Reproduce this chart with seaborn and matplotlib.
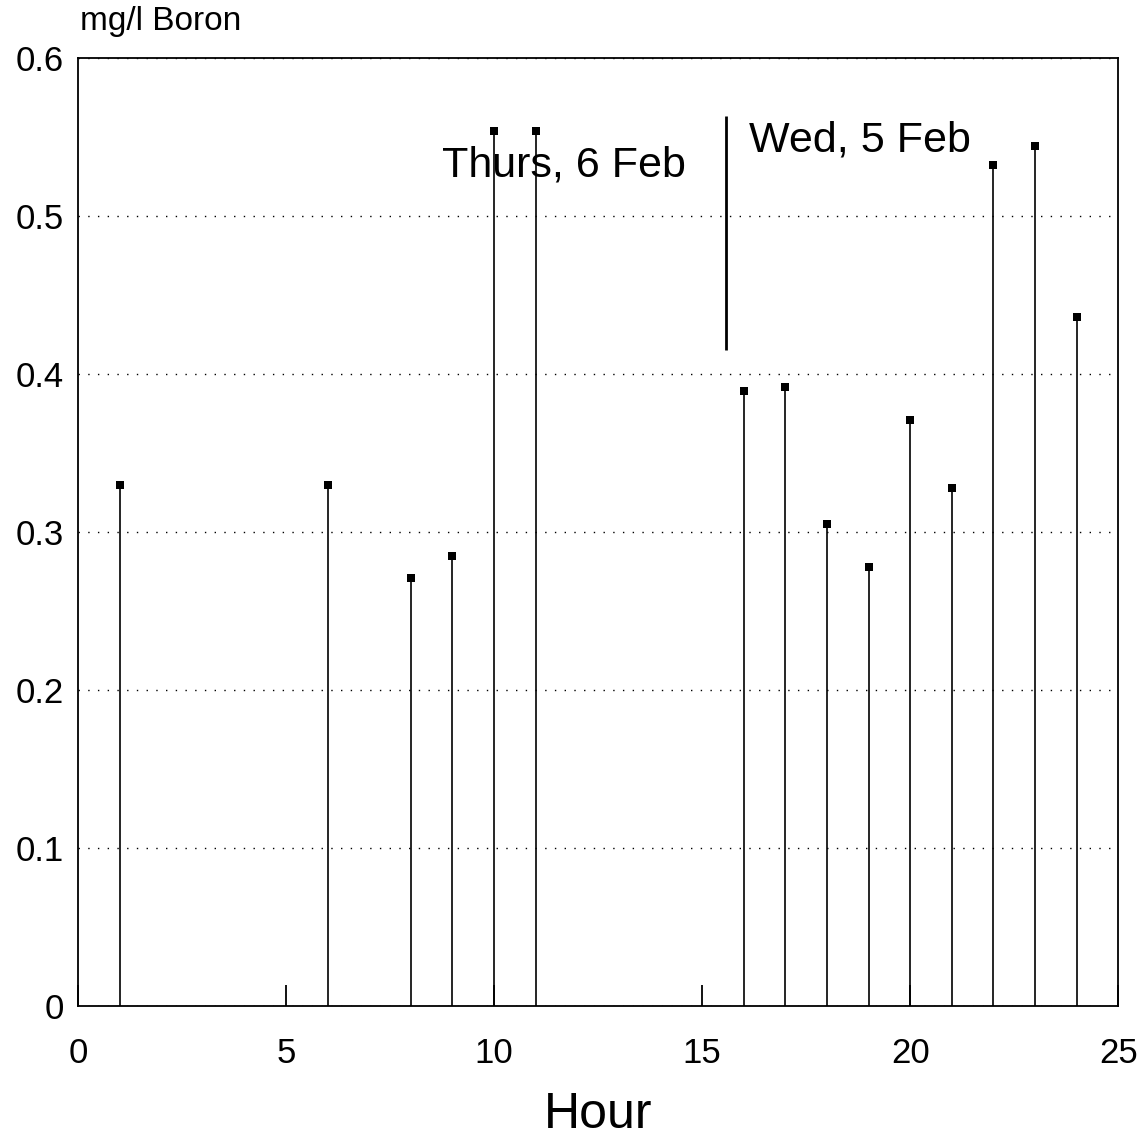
import matplotlib
matplotlib.use('Agg')
import matplotlib.pyplot as plt
import seaborn as sns
import pandas as pd

# ---------- Data ----------
hours = [1, 6, 8, 9, 10, 11, 16, 17, 18, 19, 20, 21, 22, 23, 24]
boron = [0.330, 0.330, 0.271, 0.285, 0.554, 0.554, 0.389, 0.392,
         0.305, 0.278, 0.371, 0.328, 0.532, 0.544, 0.436]
x_ticks = [0, 5, 10, 15, 20, 25]
y_ticks = [0, 0.1, 0.2, 0.3, 0.4, 0.5, 0.6]
y_tick_labels = ['0', '0.1', '0.2', '0.3', '0.4', '0.5', '0.6']
day_split = 15.58
day_split_range = (0.415, 0.563)

data = pd.DataFrame({'hour': hours, 'boron': boron})

sns.set_style('white')
plt.rcParams['font.family'] = ['Liberation Sans', 'DejaVu Sans']
plt.rcParams['text.color'] = 'black'
plt.rcParams['xtick.color'] = 'black'
plt.rcParams['ytick.color'] = 'black'
plt.rcParams['axes.labelcolor'] = 'black'

fig = plt.figure(figsize=(11.48, 11.41), dpi=100)
ax = fig.add_axes([0.068, 0.1183, 0.906, 0.8309])

# stems + square heads
ax.vlines(data['hour'], 0, data['boron'], color='black', linewidth=1.2, zorder=3)
sns.scatterplot(data=data, x='hour', y='boron', marker='s', s=32,
                color='black', edgecolor='black', linewidth=0, ax=ax, zorder=4)

# day separator and labels
ax.vlines(day_split, *day_split_range, color='black', linewidth=2)
ax.text(8.75, 0.532, 'Thurs, 6 Feb', fontsize=31, va='center', ha='left')
ax.text(16.12, 0.548, 'Wed, 5 Feb', fontsize=31, va='center', ha='left')

ax.set_xlim(0, 25)
ax.set_ylim(0, 0.6)
ax.set_xticks(x_ticks)
ax.set_yticks(y_ticks)
ax.set_yticklabels(y_tick_labels)
ax.tick_params(axis='x', bottom=True, direction='in', length=15, width=1.3,
               labelsize=25, pad=22)
ax.tick_params(axis='y', left=False, length=0, labelsize=25, pad=10)

ax.yaxis.grid(True, color='black', linestyle=(0, (1, 6)), linewidth=1)
ax.xaxis.grid(False)
for s in ax.spines.values():
    s.set_visible(True)
    s.set_color('black')
    s.set_linewidth(1.3)

ax.set_xlabel('Hour', fontsize=36, labelpad=16)
ax.set_ylabel('')
fig.text(0.070, 0.981, 'mg/l Boron', fontsize=24, va='center', ha='left')

fig.savefig('out.png', dpi=100)
